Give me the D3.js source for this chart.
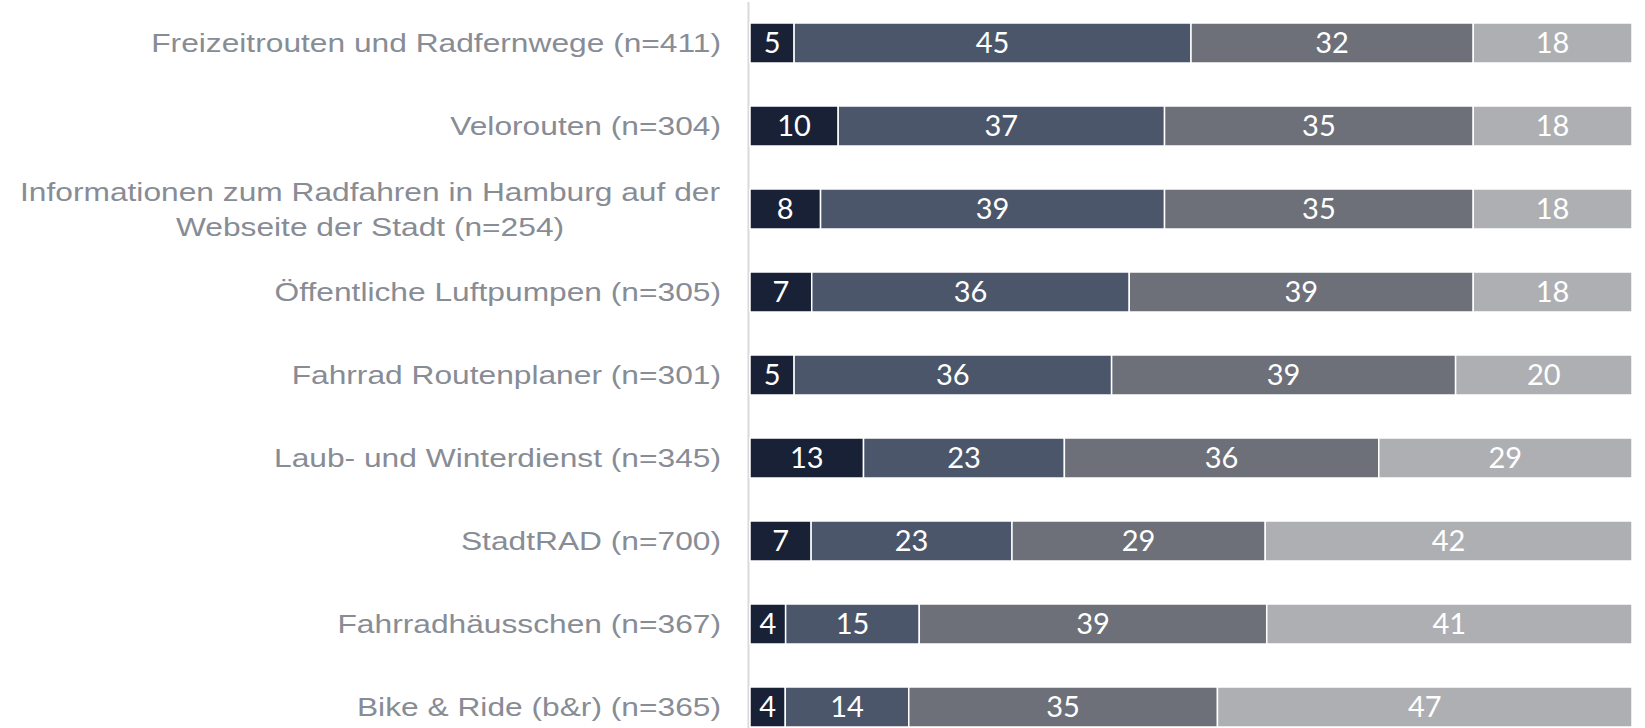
<!DOCTYPE html>
<html>
<head>
<meta charset="utf-8">
<script src="https://cdn.jsdelivr.net/npm/d3@7"></script>
<style>
  html, body { margin: 0; padding: 0; background: #fff; }
  svg { display: block; }
</style>
</head>
<body>
<div id="chart"></div>
<script>
// ---- DATA -----------------------
var categories = [
  "Freizeitrouten und Radfernwege (n=411)",
  "Velorouten (n=304)",
  "Informationen zum Radfahren in Hamburg auf der|Webseite der Stadt (n=254)",
  "Öffentliche Luftpumpen (n=305)",
  "Fahrrad Routenplaner (n=301)",
  "Laub- und Winterdienst (n=345)",
  "StadtRAD (n=700)",
  "Fahrradhäusschen (n=367)",
  "Bike & Ride (b&r) (n=365)"
];
var seriesKeys = ["s1", "s2", "s3", "s4"];
var s1 = [5, 10, 8, 7, 5, 13, 7, 4, 4];
var s2 = [45, 37, 39, 36, 36, 23, 23, 15, 14];
var s3 = [32, 35, 35, 39, 39, 36, 29, 39, 35];
var s4 = [18, 18, 18, 18, 20, 29, 42, 41, 47];
var colors = ["#182136", "#4c566b", "#6d6f79", "#aeafb3"];

// ---- SETUP ----------------------
var W = 1645, H = 728;
var svg = d3.select("#chart").append("svg")
  .attr("width", W)
  .attr("height", H);

var rows = categories.map(function (c, i) {
  return { cat: c, s1: s1[i], s2: s2[i], s3: s3[i], s4: s4[i] };
});

// 100% stacked
var stacked = d3.stack().keys(seriesKeys).offset(d3.stackOffsetExpand)(rows);

var x = d3.scaleLinear().domain([0, 1]).range([750, 1632]);
var y = d3.scaleBand().domain(categories).range([23, 727]).paddingInner(0.518).paddingOuter(0);

// axis line
svg.append("line")
  .attr("x1", 748.5).attr("x2", 748.5)
  .attr("y1", 2).attr("y2", H)
  .attr("stroke", "#d9d9d9")
  .attr("stroke-width", 2);

// bars
var layer = svg.selectAll(".layer")
  .data(stacked)
  .enter().append("g")
  .attr("class", "layer")
  .attr("fill", function (d, i) { return colors[i]; });

layer.selectAll("rect")
  .data(function (d) { return d; })
  .enter().append("rect")
  .attr("x", function (d) { return x(d[0]); })
  .attr("y", function (d) { return y(d.data.cat); })
  .attr("width", function (d) { return x(d[1]) - x(d[0]); })
  .attr("height", y.bandwidth())
  .attr("stroke", "#ffffff")
  .attr("stroke-width", 1.5);

// value labels
layer.selectAll("text")
  .data(function (d) { return d.map(function (p) { p.key = d.key; return p; }); })
  .enter().append("text")
  .attr("x", function (d) { return (x(d[0]) + x(d[1])) / 2; })
  .attr("y", function (d) { return y(d.data.cat) + y.bandwidth() / 2; })
  .attr("dy", "0.36em")
  .attr("text-anchor", "middle")
  .attr("fill", "#ffffff")
  .style("font-family", "Lato, sans-serif")
  .style("font-size", "29px")
  .text(function (d) { return d.data[d.key]; });

// category labels (the source text is stretched sideways a bit)
var stretch = 1.22;
var labelG = svg.append("g")
  .attr("transform", "translate(721,0) scale(" + stretch + ",1)");

var labels = labelG.selectAll(".cat")
  .data(categories)
  .enter().append("text")
  .attr("class", "cat")
  .attr("fill", "#878c95")
  .style("font-family", "'Liberation Sans', Arial, sans-serif")
  .style("font-size", "26px");

labels.each(function (c) {
  var parts = c.split("|");
  var t = d3.select(this);
  var cy = y(c) + y.bandwidth() / 2;
  var lh = 35;
  parts.forEach(function (p, j) {
    t.append("tspan")
      .attr("x", parts.length > 1 ? (370 - 721) / stretch : 0)
      .attr("text-anchor", parts.length > 1 ? "middle" : "end")
      .attr("y", cy + (j - (parts.length - 1) / 2) * lh)
      .attr("dy", "0.35em")
      .text(p);
  });
});
</script>
</body>
</html>
